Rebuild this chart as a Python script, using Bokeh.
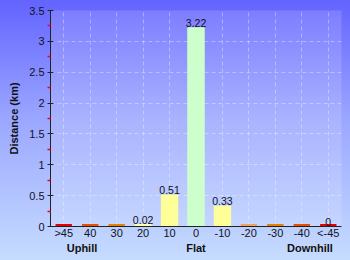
from bokeh.plotting import figure
from bokeh.models import ColumnDataSource, FixedTicker, Range1d, FactorRange, CategoricalAxis
from bokeh.embed import file_html
from bokeh.resources import INLINE
from bokeh.core.properties import value

categories = [">45", "40", "30", "20", "10", "0", "-10", "-20", "-30", "-40", "<-45"]
distances = [0.0, 0.0, 0.0, 0.02, 0.51, 3.22, 0.33, 0.0, 0.0, 0.0, 0.0]
value_labels = ["", "", "", "0.02", "0.51", "3.22", "0.33", "", "", "", "0"]
bar_colors = ["#e80000", "#e85000", "#e88000", "#ffffb0", "#ffff99", "#ccffcc",
              "#ffff99", "#f0a060", "#e88000", "#e85000", "#e80000"]
y_ticks = [0, 0.5, 1, 1.5, 2, 2.5, 3, 3.5]
y_tick_labels = ["0", "0.5", "1", "1.5", "2", "2.5", "3", "3.5"]
y_minor = [0.25, 0.75, 1.25, 1.75, 2.25, 2.75, 3.25]
group_labels = ["Uphill", "Flat", "Downhill"]

FONT = "Liberation Sans"

src = ColumnDataSource(dict(cat=categories, d=distances, lab=value_labels, col=bar_colors))

p = figure(x_range=categories, y_range=Range1d(0, 3.5), width=350, height=260,
           output_backend="svg", toolbar_location=None,
           min_border_left=50, min_border_right=9, min_border_top=10, min_border_bottom=34)

p.styles = {"background": "linear-gradient(to bottom, #6363ff 0%, #9aa6ff 45%, #c6dcff 100%)"}
p.border_fill_alpha = 0
p.background_fill_color = "#ffffff"
p.background_fill_alpha = 0.14
p.outline_line_color = None

p.vbar(x="cat", top="d", width=0.62, source=src, fill_color="col", line_color="col", line_width=1)
# thin base strip so that zero-height bars remain visible as coloured lines
p.rect(x="cat", y=0, width=0.62, height=5, height_units="screen", source=src,
       fill_color="col", line_color=None)
p.text(x="cat", y="d", text="lab", source=src, text_align="center", text_baseline="bottom",
       text_font=value(FONT), text_font_size="10.5px", text_color="#111122", y_offset=-1)

# axes
p.yaxis.ticker = FixedTicker(ticks=y_ticks, minor_ticks=y_minor)
p.yaxis.major_label_overrides = {t: s for t, s in zip(y_ticks, y_tick_labels)}
p.yaxis.axis_label = "Distance (km)"
p.yaxis.axis_label_text_font = FONT
p.yaxis.axis_label_text_font_style = "bold"
p.yaxis.axis_label_text_font_size = "11px"
p.yaxis.axis_label_text_color = "#111111"
p.yaxis.axis_label_standoff = 6
p.yaxis.major_label_text_font = FONT
p.yaxis.major_label_text_font_size = "11px"
p.yaxis.major_label_text_color = "#111122"
p.yaxis.major_label_standoff = 3
p.yaxis.axis_line_color = "#222222"
p.yaxis.major_tick_line_color = "#222222"
p.yaxis.major_tick_out = 3
p.yaxis.major_tick_in = 3
p.yaxis.minor_tick_line_color = "#ff0000"
p.yaxis.minor_tick_line_width = 1.5
p.yaxis.minor_tick_out = 3
p.yaxis.minor_tick_in = 0

p.xaxis.major_label_text_font = FONT
p.xaxis.major_label_text_font_size = "11px"
p.xaxis.major_label_text_color = "#111122"
p.xaxis.major_label_standoff = 0
p.xaxis.axis_line_color = "#222222"
p.xaxis.major_tick_out = 0
p.xaxis.major_tick_in = 0

# second, group-level axis below the category axis
p.extra_x_ranges = {"groups": FactorRange(factors=group_labels, factor_padding=0.9,
                                          range_padding=0.025, range_padding_units="absolute")}
gax = CategoricalAxis(x_range_name="groups")
gax.axis_line_color = None
gax.major_tick_line_color = None
gax.minor_tick_line_color = None
gax.major_tick_out = 0
gax.major_tick_in = 0
gax.major_label_standoff = 0
gax.major_label_text_font = FONT
gax.major_label_text_font_style = "bold"
gax.major_label_text_font_size = "11px"
gax.major_label_text_color = "#111111"
p.add_layout(gax, "below")

p.ygrid.ticker = FixedTicker(ticks=y_ticks)
for g in (p.xgrid, p.ygrid):
    g.grid_line_color = "#ffffff"
    g.grid_line_alpha = 0.35
    g.grid_line_dash = "4 3"

open("out.html", "w").write(file_html(p, INLINE))
